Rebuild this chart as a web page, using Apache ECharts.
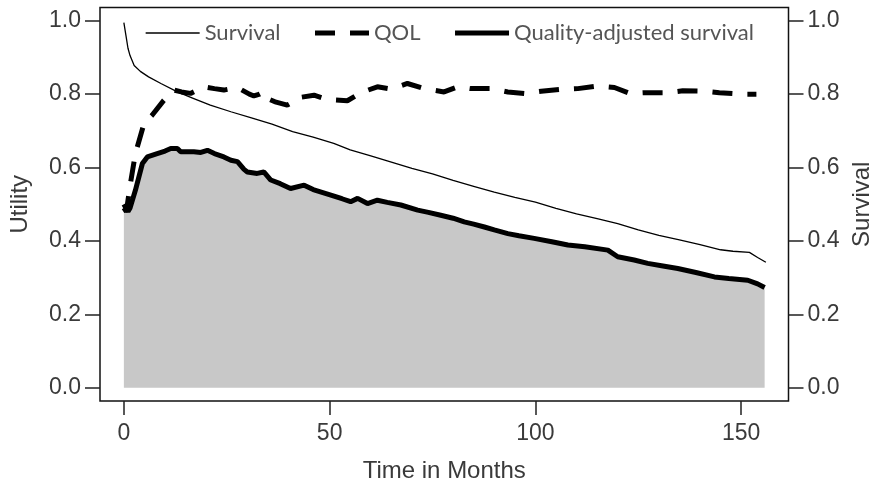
<!DOCTYPE html>
<html>
<head>
<meta charset="utf-8">
<script src="https://cdn.jsdelivr.net/npm/echarts@6/dist/echarts.min.js"></script>
<style>
  html, body { margin: 0; padding: 0; background: #fff; }
  #chart { width: 877px; height: 489px; }
</style>
</head>
<body>
<div id="chart"></div>
<script>
// months and values
var survTime  = [0, 0.5, 1, 1.5, 2.5, 4, 6, 9, 13, 17, 21, 26, 31, 36, 41, 46, 51, 55, 60, 65, 70, 75, 80, 85, 90, 95, 100, 105, 110, 115, 120, 125, 130, 135, 140, 145, 148, 152, 154, 156];
var survValue = [0.995, 0.96, 0.925, 0.905, 0.878, 0.862, 0.847, 0.829, 0.806, 0.788, 0.770, 0.752, 0.735, 0.718, 0.698, 0.683, 0.666, 0.648, 0.632, 0.615, 0.598, 0.583, 0.565, 0.549, 0.533, 0.519, 0.506, 0.489, 0.474, 0.461, 0.447, 0.430, 0.415, 0.403, 0.390, 0.376, 0.372, 0.369, 0.355, 0.342];

var qolTime  = [0, 0.6, 1.6, 2.8, 4.9, 6.9, 9.7, 12.2, 14, 16.2, 19.5, 22, 24.3, 27.6, 30.5, 31.6, 33, 34, 34.9, 37, 39.7, 41, 42.2, 46.2, 49.5, 54.3, 57.6, 61.6, 64.9, 68.9, 73, 77.8, 81.1, 84.3, 89.2, 93.3, 97.3, 101.4, 106.2, 110.3, 115.2, 119.2, 122.9, 126.5, 132.2, 135.8, 141.1, 144.7, 150, 153.7];
var qolValue = [0.49, 0.48, 0.557, 0.638, 0.72, 0.743, 0.783, 0.811, 0.806, 0.802, 0.820, 0.815, 0.811, 0.818, 0.800, 0.795, 0.800, 0.806, 0.788, 0.778, 0.770, 0.778, 0.790, 0.797, 0.785, 0.782, 0.804, 0.820, 0.814, 0.829, 0.815, 0.806, 0.820, 0.815, 0.815, 0.806, 0.802, 0.808, 0.813, 0.815, 0.822, 0.818, 0.802, 0.804, 0.804, 0.809, 0.808, 0.804, 0.800, 0.800];

var qasTime  = [0, 1, 1.5, 2.8, 4.5, 5.7, 8.1, 10, 11.4, 13, 13.8, 17, 18.7, 20.3, 22, 24.3, 26, 27.6, 29.2, 30, 32.4, 34, 35.7, 38, 40.5, 43.8, 46, 50.3, 53, 55.1, 56.8, 59.2, 61.6, 64, 67.3, 71.4, 74, 77, 80, 82.7, 85, 87.6, 90, 93.3, 96, 99.7, 104, 107.9, 112, 117.6, 120, 124, 127.3, 131, 134.6, 139, 143.5, 147, 151.6, 154, 155.7];
var qasValue = [0.50, 0.48, 0.49, 0.538, 0.611, 0.629, 0.638, 0.645, 0.652, 0.652, 0.643, 0.643, 0.641, 0.647, 0.638, 0.629, 0.620, 0.616, 0.595, 0.588, 0.584, 0.588, 0.566, 0.556, 0.543, 0.552, 0.540, 0.525, 0.515, 0.507, 0.516, 0.502, 0.511, 0.505, 0.498, 0.484, 0.478, 0.470, 0.462, 0.452, 0.446, 0.438, 0.430, 0.420, 0.414, 0.407, 0.398, 0.389, 0.384, 0.375, 0.357, 0.348, 0.339, 0.332, 0.325, 0.314, 0.302, 0.298, 0.293, 0.283, 0.273];

var xTicks = [0, 50, 100, 150];
var yTicks = [0, 0.2, 0.4, 0.6, 0.8, 1.0];

function pairs(t, v) {
    return t.map(function (x, i) { return [x, v[i]]; });
}

var dom = document.getElementById('chart');
var myChart = echarts.init(dom);

var labelFont = {
    fontFamily: 'Liberation Sans, Arial, sans-serif',
    fontSize: 23,
    color: '#3a3a3a'
};
var nameFont = {
    fontFamily: 'Liberation Sans, Arial, sans-serif',
    fontSize: 24,
    color: '#3a3a3a'
};

function yAxisOf(pos, name, gap) {
    return {
        type: 'value',
        position: pos,
        min: -0.036,
        max: 1.036,
        name: name,
        nameLocation: 'middle',
        nameGap: gap,
        nameRotate: 90,
        nameTextStyle: nameFont,
        axisLine: { show: false, onZero: false },
        axisTick: { show: true, inside: false, length: 15, customValues: yTicks, lineStyle: { color: '#222', width: 1.5 } },
        axisLabel: Object.assign({ margin: 19, customValues: yTicks, formatter: function (v) { return v.toFixed(1); } }, labelFont),
        splitLine: { show: false }
    };
}

var noSymbol = { opacity: 0 };

option = {
    backgroundColor: '#fff',
    animation: false,
    grid: {
        left: 100,
        right: 88.5,
        top: 7.5,
        bottom: 88,
        containLabel: false,
        outerBoundsMode: 'none',
        show: true,
        borderColor: '#111',
        borderWidth: 1.5,
        backgroundColor: 'transparent'
    },
    legend: {
        top: 22,
        left: 145,
        padding: 0,
        itemWidth: 54,
        itemHeight: 14,
        itemGap: 32,
        data: [
            { name: 'Survival', itemStyle: noSymbol, lineStyle: { width: 1.3, type: 'solid' } },
            { name: 'QOL', itemStyle: noSymbol, lineStyle: { width: 5, type: [20, 15] } },
            { name: 'Quality-adjusted survival', itemStyle: noSymbol, lineStyle: { width: 5, type: 'solid' } }
        ],
        textStyle: { fontFamily: 'Lato, Open Sans, sans-serif', fontSize: 22, color: '#555' }
    },
    xAxis: {
        type: 'value',
        min: -5.8,
        max: 161.5,
        name: 'Time in Months',
        nameLocation: 'middle',
        nameGap: 58,
        nameTextStyle: nameFont,
        axisLine: { show: false, onZero: false },
        axisTick: { show: true, inside: false, length: 14, customValues: xTicks, lineStyle: { color: '#222', width: 1.5 } },
        axisLabel: Object.assign({ margin: 21, customValues: xTicks }, labelFont),
        splitLine: { show: false }
    },
    yAxis: [
        yAxisOf('left', 'Utility', 68),
        yAxisOf('right', 'Survival', 62)
    ],
    series: [
        {
            name: 'Quality-adjusted survival',
            type: 'line',
            yAxisIndex: 0,
            showSymbol: false,
            symbol: 'none',
            z: 2,
            data: pairs(qasTime, qasValue),
            lineStyle: { color: '#000', width: 5 },
            itemStyle: { color: '#000' },
            areaStyle: { color: '#c8c8c8', opacity: 1 }
        },
        {
            name: 'Survival',
            type: 'line',
            yAxisIndex: 1,
            showSymbol: false,
            symbol: 'none',
            z: 3,
            data: pairs(survTime, survValue),
            lineStyle: { color: '#000', width: 1.3 },
            itemStyle: { color: '#000' }
        },
        {
            name: 'QOL',
            type: 'line',
            yAxisIndex: 0,
            showSymbol: false,
            symbol: 'none',
            z: 4,
            data: pairs(qolTime, qolValue),
            lineStyle: { color: '#000', width: 5, type: [20, 15] },
            itemStyle: { color: '#000' }
        }
    ]
};

if (option && typeof option === "object") {
    myChart.setOption(option, true);
}
</script>
</body>
</html>
